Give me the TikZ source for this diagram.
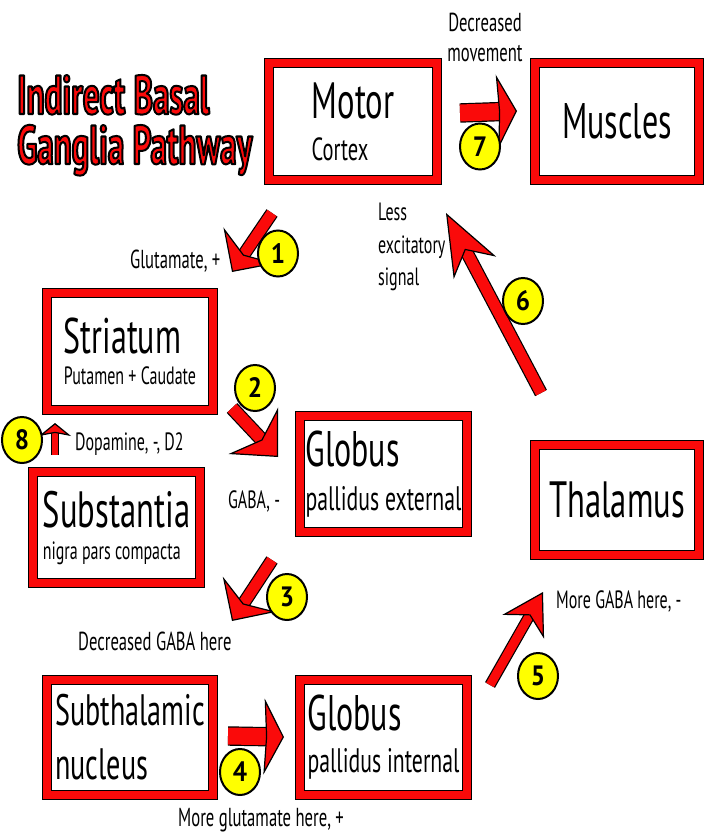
\documentclass[tikz,border=0pt]{standalone}
\usepackage{fontspec}
\setmainfont{PT Sans}[FakeStretch=0.64]
\newfontfamily\titlefont{PT Sans}[FakeStretch=0.6]
\newfontfamily\badgefont{PT Sans}[FakeStretch=0.9]
\usepackage{xcolor}
\usetikzlibrary{arrows.meta, shapes.geometric}

\definecolor{boxred}{RGB}{250,10,10}
\definecolor{badgeyellow}{RGB}{255,255,0}
\newcommand{\fs}[1]{\fontsize{#1}{#1}\selectfont}
\newcommand{\outlined}[1]{\textcolor{boxred}{\special{pdf:literal direct 2 Tr 2 w 1 j 0 0 0 RG}#1\special{pdf:literal direct 0 Tr}}}

\begin{document}
\begin{tikzpicture}[x=1pt, y=-1pt,
    region/.style={rectangle, draw=black, line width=1pt, double=boxred, double distance=8pt,
                   fill=white, inner sep=0pt, align=left},
    badge/.style={ellipse, draw=black, line width=2pt, fill=badgeyellow, inner sep=0pt,
                  minimum width=40pt, minimum height=46pt, font=\badgefont\bfseries\fs{28}},
    note/.style={anchor=base west, inner sep=0pt},
    redarrow/.style n args={6}{draw=boxred, line width=#1,
        -{Stealth[length=#2, width=#3, inset=#4, color=black, fill=boxred, line width=1.2pt 0]},
        preaction={draw=black, -, line width=#5, shorten >=#6}}
]
\useasboundingbox (0,0) rectangle (706,832);

\node[anchor=base west, inner sep=0pt, font=\titlefont\bfseries\fs{55}] (title1) at (17,114)
    {\outlined{Indirect Basal}};
\node[anchor=base west, inner sep=0pt, font=\titlefont\bfseries\fs{55}] (title2) at (17,164)
    {\outlined{Ganglia Pathway}};

\node[region, minimum width=168pt, minimum height=117pt, font=\fontsize{51}{42}\selectfont] (motor) at (353,121.5)
    {Motor\\{\fs{32}Cortex}};
\node[region, minimum width=164pt, minimum height=117pt, font=\fs{50}] (muscles) at (617,121.5) {Muscles};
\node[region, minimum width=166pt, minimum height=117pt, font=\fontsize{50}{31}\selectfont] (striatum) at (130,351.5)
    {Striatum\\{\fs{25}Putamen + Caudate}};
\node[region, minimum width=167pt, minimum height=111pt, font=\fontsize{51}{32}\selectfont] (snc) at (116.5,527.5)
    {Substantia\\{\fs{25}nigra pars compacta}};
\node[region, minimum width=167pt, minimum height=116pt, font=\fontsize{50}{44}\selectfont] (gpe) at (383.5,474)
    {Globus\\{\fs{34}pallidus external}};
\node[region, minimum width=164pt, minimum height=110pt, font=\fs{51}] (thalamus) at (617,500) {Thalamus};
\node[region, minimum width=166pt, minimum height=115pt, font=\fontsize{44}{54}\selectfont] (stn) at (130,737.5)
    {Subthalamic\\nucleus};
\node[region, minimum width=167pt, minimum height=115pt, font=\fontsize{50}{42}\selectfont] (gpi) at (383.5,737.5)
    {Globus\\{\fs{34}pallidus internal}};

\coordinate (a1s) at (272,213);  \coordinate (a1e) at (232,272);
\coordinate (a2s) at (232,408);  \coordinate (a2e) at (278,457);
\coordinate (a3s) at (272,560);  \coordinate (a3e) at (232,621);
\coordinate (a4s) at (228,736);  \coordinate (a4e) at (284,737);
\coordinate (a5s) at (490,685);  \coordinate (a5e) at (543,592);
\coordinate (a6s) at (541,393);  \coordinate (a6e) at (446,213);
\coordinate (a7s) at (460,113);  \coordinate (a7e) at (517,111);
\coordinate (a8s) at (55,455);   \coordinate (a8e) at (55,423);

\draw[redarrow={11pt}{32pt}{64pt}{11pt}{13.4pt}{19pt}] (a1s) -- (a1e);
\draw[redarrow={12pt}{36pt}{68pt}{12pt}{14.4pt}{22pt}] (a2s) -- (a2e);
\draw[redarrow={11pt}{32pt}{64pt}{11pt}{13.4pt}{19pt}] (a3s) -- (a3e);
\draw[redarrow={17pt}{20pt}{76pt}{2pt}{19.4pt}{16pt}] (a4s) -- (a4e);
\draw[redarrow={9pt}{40pt}{48pt}{13pt}{11.4pt}{25pt}] (a5s) -- (a5e);
\draw[redarrow={11pt}{62pt}{48pt}{20pt}{13.4pt}{40pt}] (a6s) -- (a6e);
\draw[redarrow={17pt}{20pt}{74pt}{2pt}{19.4pt}{16pt}] (a7s) -- (a7e);
\draw[redarrow={6pt}{13pt}{32pt}{3pt}{8.4pt}{8pt}] (a8s) -- (a8e);

\node[badge] (n1) at (278,253.5) {1};
\node[badge] (n2) at (255,388) {2};
\node[badge] (n3) at (287,597) {3};
\node[badge] (n4) at (240,772) {4};
\node[badge] (n5) at (538,676) {5};
\node[badge] (n6) at (523,301) {6};
\node[badge] (n7) at (480,146.5) {7};
\node[badge] (n8) at (22,440) {8};

\node[anchor=south, inner sep=0pt, align=center, font=\fontsize{26}{30}\selectfont] (decmove) at (485,62)
    {Decreased\\movement};
\node[anchor=north west, inner sep=0pt, align=left, font=\fontsize{25}{32.5}\selectfont] (lessexc) at (378,203)
    {Less\\excitatory\\signal};
\node[note, font=\fs{26}] (glut) at (130,268) {Glutamate, +};
\node[note, font=\fs{25}] (dopa) at (75,450) {Dopamine, -, D2};
\node[note, font=\fs{25}] (gaba) at (228,508) {GABA, -};
\node[note, font=\fs{26}] (decgaba) at (78,650) {Decreased GABA here};
\node[note, font=\fs{25}] (moregaba) at (556,608) {More GABA here, -};
\node[note, font=\fs{26}] (moreglu) at (178,826) {More glutamate here, +};
\end{tikzpicture}
\end{document}
